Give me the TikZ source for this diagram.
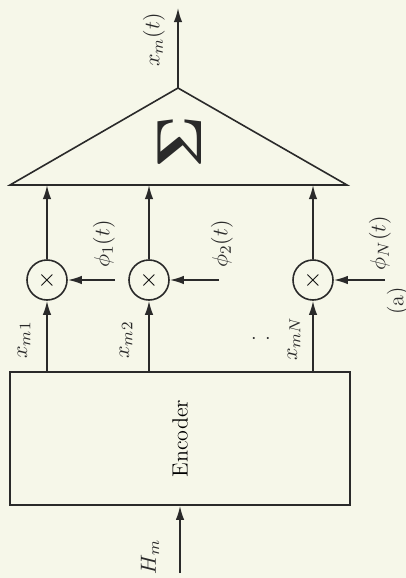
\documentclass[tikz,border=0pt]{standalone}
\usetikzlibrary{arrows.meta}
\definecolor{ink}{HTML}{2A2A2A}
\definecolor{paper}{HTML}{F6F7E9}
\tikzset{
  encbox/.style={
    draw=ink,
    line width=0.8pt,
    minimum width=170pt,
    minimum height=66.5pt,
    inner sep=0pt,
    font=\fontsize{11}{13}\selectfont
  },
  mult/.style={circle, draw=ink, line width=0.8pt, minimum size=20pt, inner sep=0pt, font=\large},
  lbl/.style={rotate=90, inner sep=0pt, text=ink, font=\fontsize{11}{13}\selectfont},
  arrow/.style={-{Latex[length=7pt,width=4.2pt]}, line width=0.8pt, draw=ink}
}

\begin{document}
\begin{tikzpicture}[x=0.5pt, y=-0.5pt]

\fill[paper] (0,0) rectangle (406,578);
\useasboundingbox (0,0) rectangle (406,578);

% summing block
\coordinate (apex) at (178,88);
\coordinate (baseL) at (10,185);
\coordinate (baseR) at (347,185);
\coordinate (out) at (178,8);
\draw[ink, line width=0.8pt] (baseL) -- (apex) -- (baseR) -- cycle;
\node[lbl] (sigma) at (180,142) {\scalebox{2.9}{$\mathbf{\Sigma}$}};

% multipliers
\node[mult] (mul1) at (47,280) {$\times$};
\node[mult] (mul2) at (149,280) {$\times$};
\node[mult] (mulN) at (313,280) {$\times$};

\coordinate (phi1) at (115,280);
\coordinate (phi2) at (219,280);
\coordinate (phiN) at (385,280);

% encoder
\node[encbox] (encoder) at (180,438.5) {\rotatebox{90}{Encoder}};
\coordinate (Hin) at (180,573);

% labels
\node[lbl] (xmlbl) at (154,40) {$x_m(t)$};
\node[lbl] (phi1lbl) at (104,244) {$\phi_1(t)$};
\node[lbl] (phi2lbl) at (222,244) {$\phi_2(t)$};
\node[lbl] (phiNlbl) at (380,243) {$\phi_N(t)$};
\node[lbl] (figlbl) at (398,301) {(a)};
\node[lbl] (xm1lbl) at (24,340) {$x_{m1}$};
\node[lbl] (xm2lbl) at (126,340) {$x_{m2}$};
\node[lbl] (xmNlbl) at (294,339) {$x_{mN}$};
\node[inner sep=0pt, text=ink] (dots) at (261,339) {$\cdot\hspace{4.2pt}\cdot$};
\node[lbl] (Hlbl) at (150,557) {$H_m$};

% connectors
\draw[arrow] (apex) -- (out);
\draw[arrow] (mul1) -- (mul1 |- baseL);
\draw[arrow] (mul2) -- (mul2 |- baseL);
\draw[arrow] (mulN) -- (mulN |- baseL);
\draw[arrow] (phi1) -- (mul1);
\draw[arrow] (phi2) -- (mul2);
\draw[arrow] (phiN) -- (mulN);
\draw[arrow] (encoder.north -| mul1) -- (mul1);
\draw[arrow] (encoder.north -| mul2) -- (mul2);
\draw[arrow] (encoder.north -| mulN) -- (mulN);
\draw[arrow] (Hin) -- (encoder);

\end{tikzpicture}
\end{document}
